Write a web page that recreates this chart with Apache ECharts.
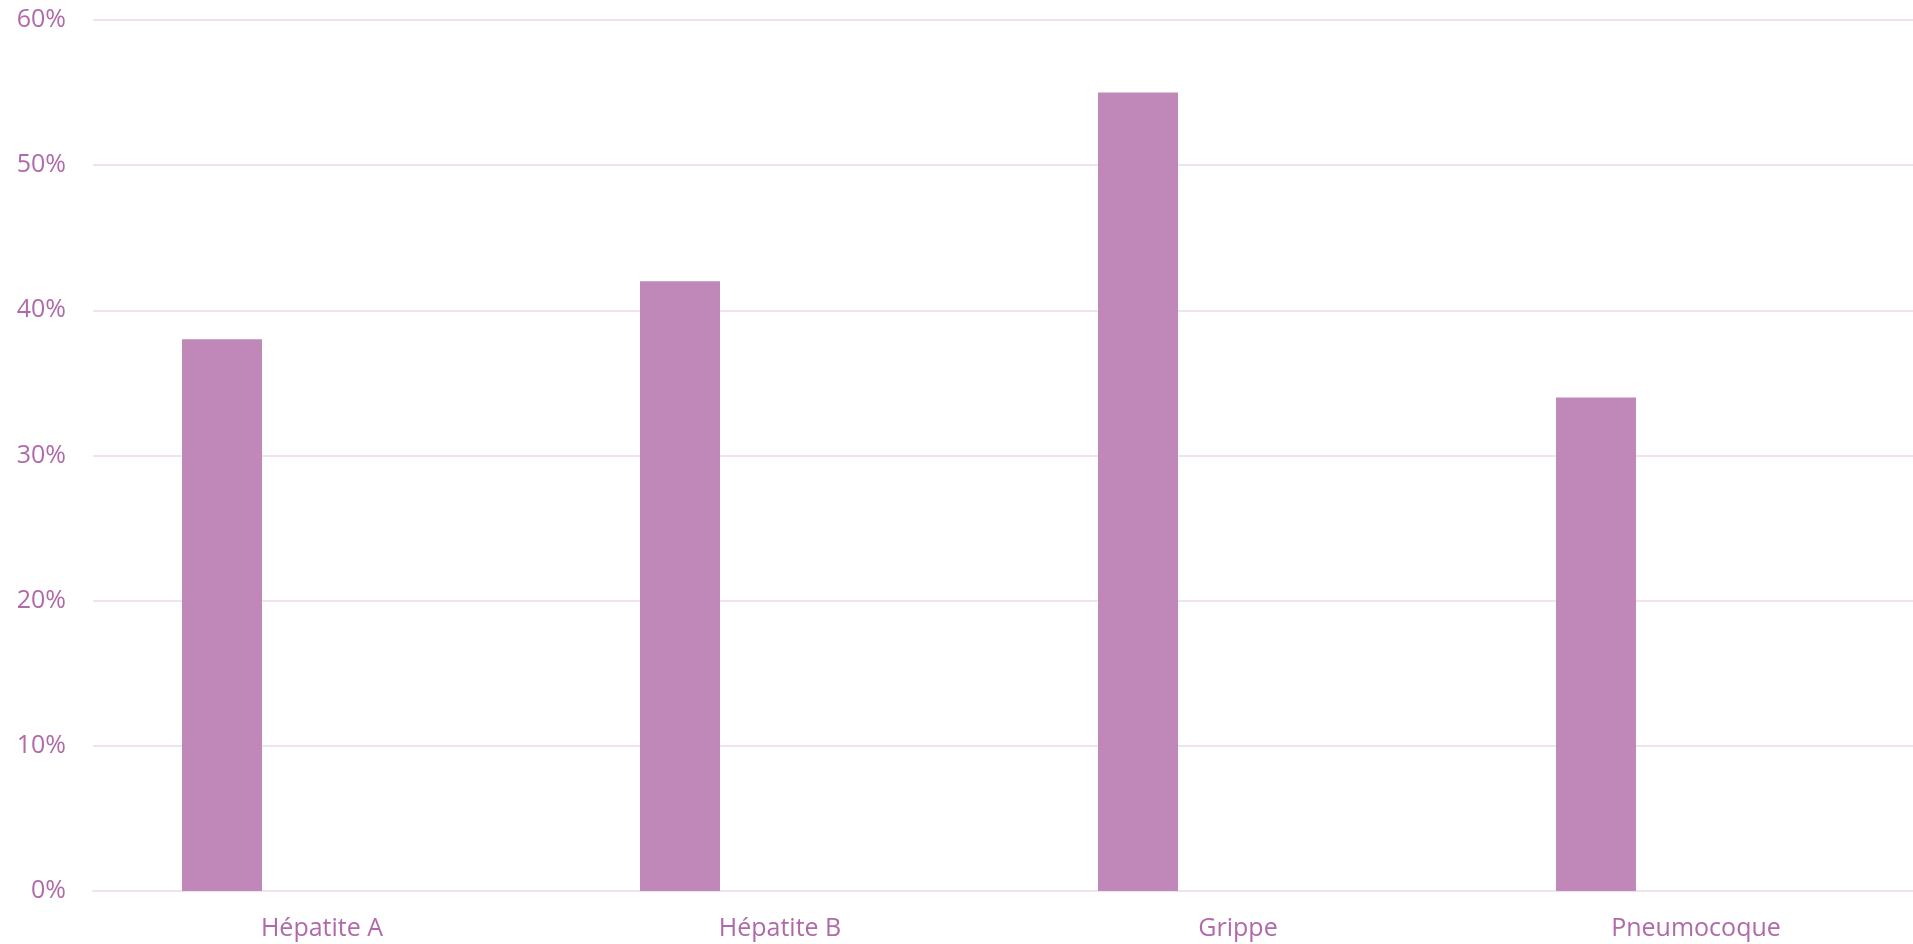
<!DOCTYPE html>
<html>
<head>
<meta charset="utf-8">
<script src="https://cdn.jsdelivr.net/npm/echarts@6/dist/echarts.min.js"></script>
<style>
html,body{margin:0;padding:0;background:#fff;}
#chart{width:1913px;height:944px;}
</style>
</head>
<body>
<div id="chart"></div>
<script>
const categories = ['Hépatite A', 'Hépatite B', 'Grippe', 'Pneumocoque'];
const coverage = [0.38, 0.42, 0.55, 0.34];
const emptySeriesB = [null, null, null, null];
const emptySeriesC = [null, null, null, null];
const yTicks = { min: 0, max: 0.6, interval: 0.1 };

const textColor = '#B06AA9';
const chart = echarts.init(document.getElementById('chart'));
chart.setOption({
  animation: false,
  grid: { left: 93, right: -12, top: 20, bottom: 53, containLabel: false, outerBoundsMode: 'none' },
  xAxis: {
    type: 'category',
    data: categories,
    axisLine: { show: true, lineStyle: { color: '#F2E2EF', width: 2 } },
    axisTick: { show: false },
    axisLabel: { color: textColor, fontSize: 25, fontFamily: 'Open Sans', margin: 25 }
  },
  yAxis: {
    type: 'value',
    min: yTicks.min, max: yTicks.max, interval: yTicks.interval,
    axisLine: { show: false },
    axisTick: { show: false },
    splitLine: { lineStyle: { color: '#F2E2EF', width: 2 } },
    axisLabel: {
      color: textColor, fontSize: 25, fontFamily: 'Open Sans', margin: 27,
      formatter: v => Math.round(v * 100) + '%'
    }
  },
  series: [
    { type: 'bar', data: coverage, barWidth: 80, barGap: '25%', itemStyle: { color: '#BF88B9' } },
    { type: 'bar', data: emptySeriesB, barWidth: 80, barGap: '25%' },
    { type: 'bar', data: emptySeriesC, barWidth: 80, barGap: '25%' }
  ]
});
</script>
</body>
</html>
